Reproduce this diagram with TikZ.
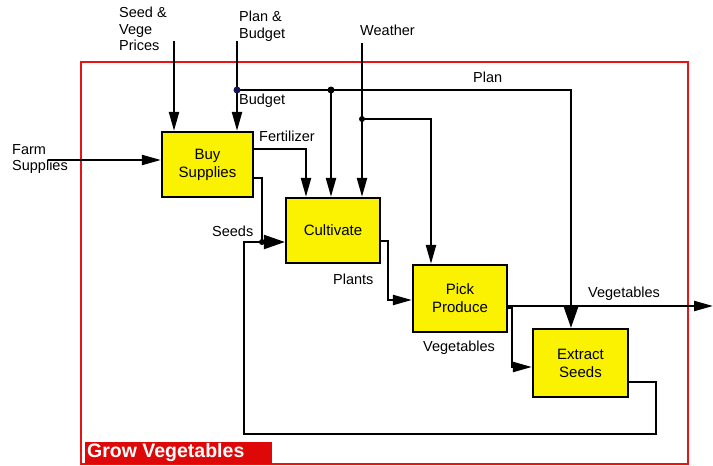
\documentclass[tikz,border=0pt]{standalone}
\usepackage{fontspec}
\setmainfont{Liberation Sans}
\usetikzlibrary{arrows.meta,calc}
\definecolor{boxyellow}{RGB}{250,242,0}
\definecolor{framered}{RGB}{230,20,20}
\definecolor{labelred}{RGB}{222,8,8}
\definecolor{dotblue}{RGB}{20,20,90}
\begin{document}
\begin{tikzpicture}[x=1pt,y=-1pt,
  fn/.style={draw=black,line width=2.2pt,fill=boxyellow,minimum width=#1,inner sep=0pt,align=center,font=\fontsize{15}{18}\selectfont},
  lbl/.style={inner sep=0pt,anchor=base west,font=\fontsize{14.5}{16.5}\selectfont},
  mlbl/.style={inner sep=0pt,anchor=north west,align=left,font=\fontsize{14.5}{16.5}\selectfont},
  flow/.style={line width=2.2pt,draw=black},
  arr/.style={flow,-{Triangle[length=19pt,width=10pt]}},
  bigarr/.style={flow,-{Triangle[length=21pt,width=14pt]}},
  jdot/.style={fill=#1,draw=none,circle,inner sep=0pt,minimum size=7pt}
]
\useasboundingbox (0,0) rectangle (713,466);
% frame
\draw[framered,line width=1.6pt] (81,62) rectangle (688,464);
\fill[labelred] (85,442) rectangle (272,464);
\node[inner sep=0pt,anchor=base west,text=white,font=\fontsize{19.5}{22}\selectfont\bfseries] (title) at (87,457) {Grow Vegetables};

% boxes
\node[fn=91pt,minimum height=65pt] (buy) at (207.5,164.5) {Buy\\Supplies};
\node[fn=94pt,minimum height=65pt] (cult) at (333,230.5) {Cultivate};
\node[fn=94pt,minimum height=67pt] (pick) at (460,298.5) {Pick\\Produce};
\node[fn=95pt,minimum height=68pt] (ext) at (580.5,363) {Extract\\Seeds};

% external labels
\node[mlbl] (farm) at (12,144) {Farm\\Supplies};
\node[mlbl] (seed) at (119,7) {Seed \&\\Vege\\Prices};
\node[mlbl] (planbud) at (239,11) {Plan \&\\Budget};
\node[lbl] (weather) at (360,35) {Weather};
\node[lbl] (planlbl) at (473,82) {Plan};
\node[lbl] (budlbl) at (239,104) {Budget};
\node[lbl] (fertlbl) at (259,141) {Fertilizer};
\node[lbl] (seedslbl) at (212,236) {Seeds};
\node[lbl] (plantslbl) at (333,284) {Plants};
\node[lbl] (veglow) at (423,351) {Vegetables};
\node[lbl] (vegup) at (588,297) {Vegetables};

% coordinates
\coordinate (farmin) at (48,160);
\coordinate (spin) at (174,41);
\coordinate (pbin) at (237,41);
\coordinate (j1) at (237,90);
\coordinate (planx) at (571,90);
\coordinate (j2) at (331,90);
\coordinate (win) at (362,43);
\coordinate (j3) at (362,119);
\coordinate (wx) at (431,119);
\coordinate (fx) at (306,149);
\coordinate (sx) at (262,178);
\coordinate (sj) at (262,242);
\coordinate (fb1) at (656,382);
\coordinate (fb2) at (656,434);
\coordinate (fb3) at (244,434);
\coordinate (fb4) at (244,242);
\coordinate (px) at (388,241);
\coordinate (py) at (388,300);
\coordinate (vout) at (713,306);
\coordinate (vx) at (512,308);
\coordinate (vy) at (512,367);

% connectors
\draw[arr] (farmin) -- (buy.west |- farmin);
\draw[arr] (spin) -- (spin |- buy.north);
\draw[arr] (pbin) -- (pbin |- buy.north);
\draw[bigarr] (j1) -- (planx) -- (planx |- ext.north);
\draw[arr] (j2) -- (j2 |- cult.north);
\draw[arr] (win) -- (win |- cult.north);
\draw[arr] (j3) -- (wx) -- (wx |- pick.north);
\draw[arr] (buy.east |- fx) -- (fx) -- (fx |- cult.north);
\draw[flow] (buy.east |- sx) -- (sx) -- (sj);
\draw[flow] (ext.east |- fb1) -- (fb1) -- (fb2) -- (fb3) -- (fb4) -- (sj);
\draw[bigarr] (sj) -- (cult.west |- sj);
\draw[arr] (cult.east |- px) -- (px) -- (py) -- (pick.west |- py);
\draw[arr] (pick.east |- vout) -- (vout);
\draw[arr] (pick.east |- vx) -- (vx) -- (vy) -- (ext.west |- vy);

% junction dots
\node[jdot=dotblue] (d1) at (j1) {};
\node[jdot=black] (d2) at (j2) {};
\node[jdot=black,minimum size=6pt] (d3) at (j3) {};
\node[jdot=black,minimum size=6pt] (d4) at (sj) {};
\end{tikzpicture}
\end{document}
